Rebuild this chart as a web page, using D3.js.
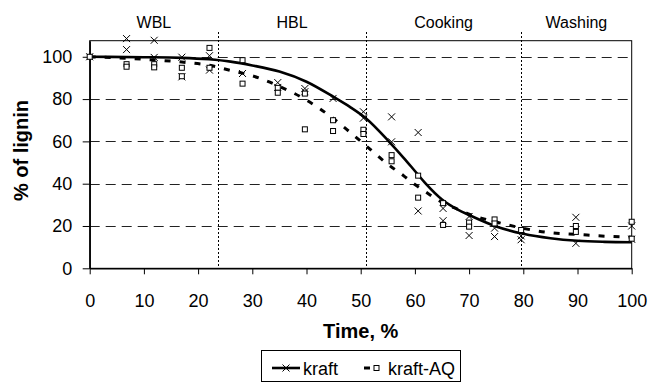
<!DOCTYPE html>
<html>
<head>
<meta charset="utf-8">
<script src="https://cdn.jsdelivr.net/npm/d3@7"></script>
<style>
  body { margin: 0; background: #fff; }
  svg { display: block; font-family: "Liberation Sans", Arial, sans-serif; }
</style>
</head>
<body>
<div class="chart"></div>
<script>
var w = 651;
var h = 383;

// measured points (time %, % of lignin)
var kraftTime = [0, 6.8, 6.8, 11.9, 11.9, 17, 17, 22.1, 22.1, 28.2, 34.7, 34.7, 39.7, 39.7, 44.9,
  50.5, 50.5, 55.7, 55.7, 60.6, 60.6, 65.2, 65.2, 70, 70, 74.7, 74.7, 79.6, 79.6, 89.7, 89.7, 100, 100];
var kraftLignin = [100, 108.6, 103.4, 107.8, 99.7, 99.8, 90.5, 100.5, 93.7, 92.1, 87.8, 85.5, 85, 83.5, 80.3,
  74, 71, 71.6, 59.8, 64.2, 27.1, 28.3, 22.5, 24.5, 15.5, 19, 15, 15.3, 13.5, 24.1, 11.8, 20, 13.7];

var aqTime = [0, 6.8, 6.8, 11.9, 11.9, 17, 17, 22.1, 22.1, 28.2, 28.2, 34.7, 34.7, 39.7, 39.7, 44.9, 44.9,
  50.5, 50.5, 55.7, 55.7, 60.6, 60.6, 65.2, 65.2, 70, 70, 74.7, 74.7, 79.6, 89.7, 89.7, 100, 100];
var aqLignin = [100, 96.5, 95.3, 96.5, 95, 94.8, 90.8, 104.2, 94.8, 98.4, 87.3, 85.3, 83, 82.6, 65.7, 70, 64.9,
  65.5, 63.5, 53.5, 50.6, 43.8, 33.4, 30.8, 20.5, 21.6, 19.7, 23.1, 21.2, 18.1, 20, 17.2, 22, 14];

// fitted curves
var fitTime  = [0, 10, 17, 22, 26, 30, 35, 40, 45, 48, 51, 55, 58, 60, 62, 65, 68, 70, 75, 80, 85, 90, 95, 100];
var kraftFit = [100, 99.8, 99.5, 98.8, 97.7, 95.9, 93, 88.2, 81, 76.3, 70.8, 60.5, 52, 46, 40, 32.5, 27.6, 25.2, 19.8, 16.3, 14.2, 13, 12.5, 12.3];
var aqFit    = [100, 98.8, 97.5, 96, 93.5, 91, 86, 79.5, 70.7, 64.4, 57.9, 49.2, 43.6, 39.6, 36.1, 31.2, 27.8, 25.6, 21.9, 18.9, 16.8, 16, 15.2, 14.7];

// process stages
var stages = ["WBL", "HBL", "Cooking", "Washing"];
var stageBounds = [0, 23.7, 51, 79.6, 100];

var xTicks = [0, 10, 20, 30, 40, 50, 60, 70, 80, 90, 100];
var yTicks = [0, 20, 40, 60, 80, 100];

var x = d3.scaleLinear().domain([0, 100]).range([89.7, 631.7]);
var y = d3.scaleLinear().domain([0, 107.6]).range([268.3, 40.7]);

var svg = d3.select(".chart")
    .append("svg")
    .attr("width", w)
    .attr("height", h);

// horizontal grid
svg.selectAll(".grid")
    .data(yTicks.filter(function(d) { return d > 0; }))
    .enter()
    .append("line")
    .attr("x1", x(0))
    .attr("x2", x(100))
    .attr("y1", function(d) { return Math.round(y(d)) + 0.5; })
    .attr("y2", function(d) { return Math.round(y(d)) + 0.5; })
    .attr("stroke", "#222")
    .attr("stroke-width", 1)
    .attr("stroke-dasharray", "10,6");

// stage boundaries (dotted)
svg.selectAll(".stage-line")
    .data(stageBounds.slice(1, 4))
    .enter()
    .append("line")
    .attr("x1", function(d) { return Math.round(x(d)) + 0.5; })
    .attr("x2", function(d) { return Math.round(x(d)) + 0.5; })
    .attr("y1", 32)
    .attr("y2", y(0))
    .attr("stroke", "#000")
    .attr("stroke-width", 1)
    .attr("stroke-dasharray", "2,2");

svg.selectAll(".stage-label")
    .data(stages)
    .enter()
    .append("text")
    .attr("x", function(d, i) { return (x(stageBounds[i]) + x(stageBounds[i + 1])) / 2; })
    .attr("y", 28)
    .attr("text-anchor", "middle")
    .style("font-size", "16px")
    .text(function(d) { return d; });

// plot frame
svg.append("rect")
    .attr("x", x(0))
    .attr("y", y(107.6))
    .attr("width", x(100) - x(0))
    .attr("height", y(0) - y(107.6))
    .attr("fill", "none")
    .attr("stroke", "#000")
    .attr("stroke-width", 1);

// axes
var xAxis = svg.append("g")
    .attr("transform", "translate(0," + y(0) + ")")
    .call(d3.axisBottom(x).tickValues(xTicks).tickSize(6).tickSizeOuter(0).tickPadding(20));
xAxis.selectAll("text").style("font-size", "18px").attr("dy", "0.71em").attr("fill", "#000");

var yAxis = svg.append("g")
    .attr("transform", "translate(" + x(0) + ",0)")
    .call(d3.axisLeft(y).tickValues(yTicks).tickSize(7).tickSizeOuter(0).tickPadding(10.5));
yAxis.selectAll("text").style("font-size", "18px").attr("fill", "#000");
svg.selectAll(".domain").attr("stroke", "#000").attr("stroke-width", 1.5);

svg.append("text")
    .attr("x", (x(0) + x(100)) / 2)
    .attr("y", 338)
    .attr("text-anchor", "middle")
    .style("font-size", "20px")
    .style("font-weight", "bold")
    .text("Time, %");

svg.append("text")
    .attr("transform", "translate(28," + ((y(0) + y(107.6)) / 2 - 4) + ") rotate(-90)")
    .attr("text-anchor", "middle")
    .style("font-size", "20px")
    .style("font-weight", "bold")
    .text("% of lignin");

// fitted curves
var line = d3.line()
    .x(function(d) { return x(d[0]); })
    .y(function(d) { return y(d[1]); })
    .curve(d3.curveMonotoneX);

svg.append("path")
    .attr("d", line(fitTime.map(function(t, i) { return [t, aqFit[i]]; })))
    .attr("fill", "none")
    .attr("stroke", "#000")
    .attr("stroke-width", 3)
    .attr("stroke-dasharray", "6,9");

svg.append("path")
    .attr("d", line(fitTime.map(function(t, i) { return [t, kraftFit[i]]; })))
    .attr("fill", "none")
    .attr("stroke", "#000")
    .attr("stroke-width", 2.6);

// markers
function cross(sel) {
    sel.append("path")
        .attr("d", "M-3.5,-3.5L3.5,3.5M-3.5,3.5L3.5,-3.5")
        .attr("stroke", "#000")
        .attr("stroke-width", 1)
        .attr("fill", "none");
}
function square(sel) {
    sel.append("rect")
        .attr("x", -2.5).attr("y", -2.5)
        .attr("width", 5).attr("height", 5)
        .attr("fill", "#fff")
        .attr("stroke", "#000")
        .attr("stroke-width", 1);
}

svg.selectAll(".kraft-pt")
    .data(kraftTime)
    .enter()
    .append("g")
    .attr("transform", function(d, i) { return "translate(" + x(d) + "," + y(kraftLignin[i]) + ")"; })
    .call(cross);

svg.selectAll(".aq-pt")
    .data(aqTime)
    .enter()
    .append("g")
    .attr("transform", function(d, i) { return "translate(" + x(d) + "," + y(aqLignin[i]) + ")"; })
    .call(square);

// legend
var legend = svg.append("g");
legend.append("rect")
    .attr("x", 261.5).attr("y", 350.5)
    .attr("width", 199).attr("height", 31)
    .attr("fill", "#fff")
    .attr("stroke", "#000")
    .attr("stroke-width", 1);

legend.append("line")
    .attr("x1", 272).attr("x2", 300).attr("y1", 368).attr("y2", 368)
    .attr("stroke", "#000").attr("stroke-width", 2.6);
legend.append("g").attr("transform", "translate(286,368)").call(cross);
legend.append("text")
    .attr("x", 303).attr("y", 375)
    .style("font-size", "18px")
    .text("kraft");

legend.append("line")
    .attr("x1", 364).attr("x2", 388).attr("y1", 368).attr("y2", 368)
    .attr("stroke", "#000").attr("stroke-width", 3)
    .attr("stroke-dasharray", "6,30");
legend.append("g").attr("transform", "translate(376.5,368)").call(square);
legend.append("text")
    .attr("x", 388).attr("y", 375)
    .style("font-size", "18px")
    .text("kraft-AQ");
</script>
</body>
</html>
